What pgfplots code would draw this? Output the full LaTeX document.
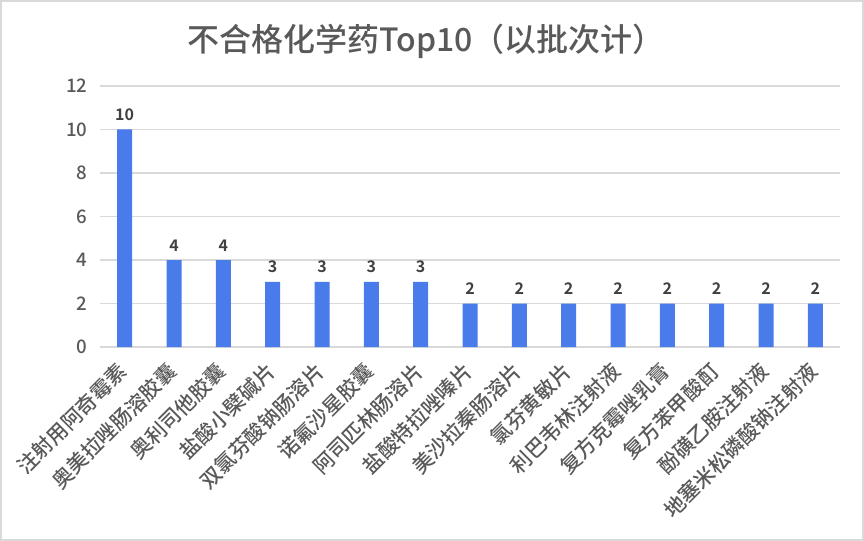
\documentclass[border=0pt]{standalone}
\usepackage{pgfplots}
\pgfplotsset{compat=1.18}
\usepackage{fontspec}
\setmainfont{Noto Sans CJK SC}[UprightFont=* Medium, BoldFont=* Bold]
\definecolor{barblue}{HTML}{4A7BEB}
\definecolor{txtgray}{HTML}{595959}
\definecolor{lblgray}{HTML}{404040}
\definecolor{gridgray}{HTML}{D9D9D9}
\begin{document}
\begin{tikzpicture}
\path[use as bounding box] (0,0) rectangle (648pt,-405.75pt);
\draw[gridgray, line width=1.2pt] (0.6pt,-0.6pt) rectangle (647.4pt,-405.15pt);
\node[text=txtgray, font=\fontsize{24}{28}\selectfont] at (319.5pt,-31pt) {不合格化学药Top10（以批次计）};
\begin{axis}[
  at={(75pt,-260.25pt)}, anchor=south west,
  scale only axis, width=555pt, height=195.75pt,
  xmin=-0.5, xmax=14.5, ymin=0, ymax=12,
  ytick={0,2,...,12},
  xtick={0,...,14},
  xticklabels={注射用阿奇霉素,奥美拉唑肠溶胶囊,奥利司他胶囊,盐酸小檗碱片,双氯芬酸钠肠溶片,诺氟沙星胶囊,阿司匹林肠溶片,盐酸特拉唑嗪片,美沙拉秦肠溶片,氯芬黄敏片,利巴韦林注射液,复方克霉唑乳膏,复方苯甲酸酊,酚磺乙胺注射液,地塞米松磷酸钠注射液},
  axis line style={draw=none},
  axis x line*=bottom,
  x axis line style={draw=gridgray, line width=1.2pt},
  axis y line=left,
  y axis line style={draw=none},
  ymajorgrids, grid style={gridgray, line width=1.2pt},
  major tick length=0pt,
  tick style={draw=none},
  /pgf/number format/assume math mode=true,
  yticklabel style={text=txtgray, font=\fontsize{14}{16}\selectfont, xshift=-6pt},
  xticklabel style={text=txtgray, font=\fontsize{15.5}{18}\selectfont, xshift=1.3pt, yshift=-13pt, rotate=45, anchor=east},
  ybar, bar width=11.25pt,
  nodes near coords,
  every node near coord/.append style={text=lblgray, font=\bfseries\fontsize{12}{14}\selectfont, yshift=3pt},
  clip=false,
]
\addplot[fill=barblue, draw=none] coordinates {
(0,10) (1,4) (2,4) (3,3) (4,3) (5,3) (6,3) (7,2) (8,2) (9,2) (10,2) (11,2) (12,2) (13,2) (14,2)
};
\end{axis}
\end{tikzpicture}
\end{document}
